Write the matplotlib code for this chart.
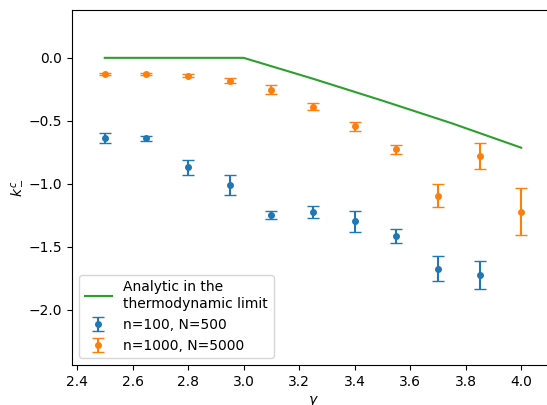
import numpy as np
from matplotlib import pyplot as plt

gamma = [2.5, 2.65, 2.8, 2.95, 3.1, 3.25, 3.4, 3.55, 3.7, 3.85, 4.0]

# n=100, N=500 (no point at 4.0)
k_small = [-0.637, -0.637, -0.87, -1.01, -1.249, -1.225, -1.299, -1.413, -1.675, -1.728]
err_small = [0.036, 0.02, 0.06, 0.082, 0.033, 0.045, 0.082, 0.055, 0.097, 0.111]

# n=1000, N=5000
k_big = [-0.127, -0.127, -0.143, -0.183, -0.254, -0.389, -0.545, -0.728, -1.095, -0.78, -1.222]
err_big = [0.01, 0.01, 0.012, 0.02, 0.036, 0.028, 0.037, 0.037, 0.093, 0.103, 0.185]

# analytic curve in the thermodynamic limit
gamma_th = [2.5, 2.75, 3.0, 3.25, 3.5, 3.75, 4.0]
k_th = [0.0, 0.0, 0.0, -0.166, -0.34, -0.52, -0.714]

fig = plt.figure(figsize=(5.47, 4.05), dpi=100)
ax = fig.add_axes([72/547, 40/405, 482/547, 355/405])

ax.errorbar(gamma[:len(k_small)], k_small, yerr=err_small, fmt='o', ms=4, capsize=4,
            label='n=100, N=500')
ax.errorbar(gamma, k_big, yerr=err_big, fmt='o', ms=4, capsize=4,
            label='n=1000, N=5000')
ax.plot(gamma_th, k_th, color='C2', label='Analytic in the\nthermodynamic limit')

ax.set_xlim(2.382, 4.118)
ax.set_ylim(-2.44, 0.38)
ax.set_xticks(np.arange(2.4, 4.01, 0.2))
ax.set_yticks([0.0, -0.5, -1.0, -1.5, -2.0])
ax.set_xlabel(r'$\gamma$')
ax.set_ylabel(r'$k_-^c$')
ax.legend(loc='lower left')

plt.savefig('out.png', dpi=100)
